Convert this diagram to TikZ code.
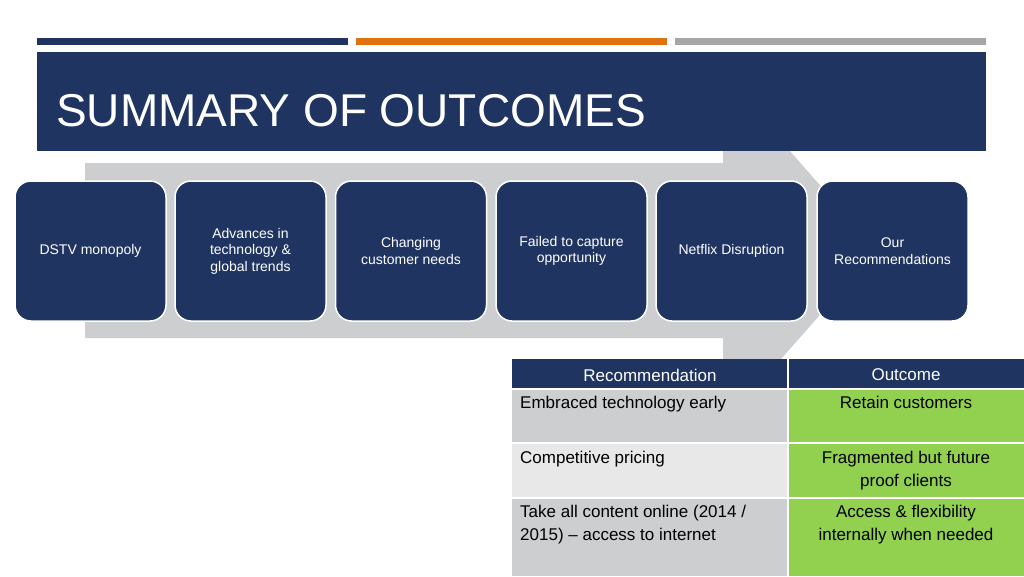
\documentclass[tikz,border=0pt]{standalone}
\usepackage{fontspec}
\setmainfont{Liberation Sans}
\definecolor{navy}{HTML}{1F3461}
\definecolor{orng}{HTML}{E07010}
\definecolor{gbar}{HTML}{A6A6A6}
\definecolor{agray}{HTML}{CDCED0}
\definecolor{lgray}{HTML}{E8E8E9}
\definecolor{grn}{HTML}{92D050}
\begin{document}
\begin{tikzpicture}[x=1pt,y=-1pt,
  stepbox/.style={fill=navy,draw=white,line width=1.5pt,rounded corners=16pt,minimum width=151pt,minimum height=140pt,text=white,align=center,font=\fontsize{14}{16.5}\selectfont,inner sep=2pt},
  cellt/.style={anchor=north west,align=left,font=\fontsize{17}{23}\selectfont,text=black,inner sep=0pt},
  cello/.style={anchor=north,align=center,font=\fontsize{17}{23}\selectfont,text=black,inner sep=0pt},
  hdr/.style={font=\fontsize{17}{20}\selectfont,text=white,inner sep=0pt}]
\useasboundingbox (0,0) rectangle (1024,576);
\fill[white] (0,0) rectangle (1024,576);
% top bars
\fill[navy] (37,38) rectangle (348,45);
\fill[orng] (356,38) rectangle (667,45);
\fill[gbar] (675,38) rectangle (986,45);
% arrow
\fill[agray] (85,163) -- (723,163) -- (723,75) -- (877,250) -- (723,425) -- (723,338) -- (85,338) -- cycle;
% title band
\fill[navy] (37,52) rectangle (986,151);
\node[anchor=west,text=white,font=\fontsize{46}{50}\selectfont,inner sep=0pt] (title) at (56,111) {SUMMARY OF OUTCOMES};
% boxes
\node[stepbox] (b1) at (90.5,251) {DSTV monopoly};
\node[stepbox] (b2) at (250.5,251) {Advances in\\technology \&\\global trends};
\node[stepbox] (b3) at (411,251) {Changing\\customer needs};
\node[stepbox] (b4) at (571.5,251) {Failed to capture\\opportunity};
\node[stepbox] (b5) at (731.5,251) {Netflix Disruption};
\node[stepbox] (b6) at (892.5,251) {Our\\Recommendations};
% table
\fill[navy] (512,359) rectangle (1024,389);
\fill[agray] (512,389) rectangle (788,443);
\fill[lgray] (512,443) rectangle (788,498);
\fill[agray] (512,498) rectangle (788,576);
\fill[grn] (788,389) rectangle (1024,576);
\draw[white,line width=1.5pt] (512,389) -- (1024,389) (512,443) -- (1024,443) (512,498) -- (1024,498) (788,359) -- (788,576);
\node[hdr] (h1) at (650,375) {Recommendation};
\node[hdr] (h2) at (906,375) {Outcome};
\node[cellt] (r1) at (520,396) {Embraced technology early};
\node[cellt] (r2) at (520,451) {Competitive pricing};
\node[cellt] (r3) at (520,505) {Take all content online (2014 /\\2015) – access to internet};
\node[cello] (o1) at (906,396) {Retain customers};
\node[cello] (o2) at (906,451) {Fragmented but future\\proof clients};
\node[cello] (o3) at (906,505) {Access \& flexibility\\internally when needed};
\end{tikzpicture}
\end{document}
